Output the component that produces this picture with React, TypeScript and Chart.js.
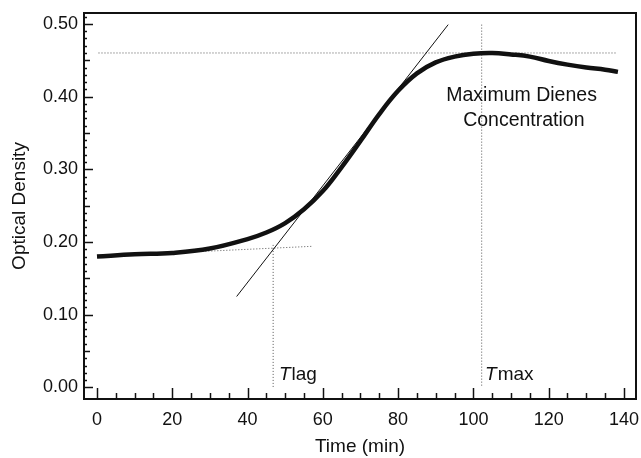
import React, { useEffect, useRef } from "react";
import { Chart, registerables } from "chart.js";

Chart.register(...registerables);

// ---- data ----
const timeMin = [0, 10, 20, 30, 40, 45, 50, 55, 60, 65, 70, 75, 80, 85, 90, 95, 100, 105, 110, 115, 120, 125, 130, 135, 138.4];
const opticalDensity = [0.18, 0.183, 0.185, 0.191, 0.204, 0.213, 0.226, 0.245, 0.27, 0.303, 0.339, 0.376, 0.408, 0.432, 0.447, 0.455, 0.459, 0.46, 0.458, 0.455, 0.449, 0.444, 0.44, 0.437, 0.434];

const tangentX = [37.1, 93.3];
const tangentY = [0.125, 0.499];
const baselineX = [28, 57];
const baselineY = [0.187, 0.194];
const tLag = 46.8;
const tLagTop = 0.196;
const tMax = 102.2;
const tMaxTop = 0.499;
const maxOD = 0.46;
const maxLineX = [0.4, 138];

const xTickLabels = [0, 20, 40, 60, 80, 100, 120, 140];
const yTickLabels = ["0.00", "0.10", "0.20", "0.30", "0.40", "0.50"];

const X_MIN = -3.45;
const X_MAX = 143.2;
const Y_MIN = -0.016;
const Y_MAX = 0.515;

const FONT = "'Liberation Sans', Arial, sans-serif";

const pts = (xs: number[], ys: number[]) => xs.map((x, i) => ({ x, y: ys[i] }));

const decorPlugin = {
  id: "decor",
  afterDraw(chart: any) {
    const { ctx, chartArea: a, scales } = chart;
    const xs = scales.x;
    const ys = scales.y;
    ctx.save();
    // frame
    ctx.strokeStyle = "#111";
    ctx.lineWidth = 2;
    ctx.strokeRect(a.left, a.top, a.right - a.left, a.bottom - a.top);
    // inside ticks y
    ctx.lineWidth = 1.5;
    for (let i = 0; i <= 51; i++) {
      const py = Math.round(ys.getPixelForValue(i / 100)) + 0.5;
      const len = i % 10 === 0 ? 9 : i % 5 === 0 ? 6 : 3;
      ctx.beginPath();
      ctx.moveTo(a.left, py);
      ctx.lineTo(a.left + len, py);
      ctx.stroke();
    }
    // inside ticks x
    for (let v = 0; v <= 140; v += 5) {
      const px = Math.round(xs.getPixelForValue(v)) + 0.5;
      const len = v % 20 === 0 ? 11 : 6;
      ctx.beginPath();
      ctx.moveTo(px, a.bottom);
      ctx.lineTo(px, a.bottom - len);
      ctx.stroke();
    }
    // annotations
    ctx.fillStyle = "#111";
    ctx.textBaseline = "alphabetic";
    ctx.font = `19.5px ${FONT}`;
    ctx.textAlign = "center";
    ctx.fillText("Maximum Dienes", xs.getPixelForValue(112.8), ys.getPixelForValue(0.3934));
    ctx.fillText("Concentration", xs.getPixelForValue(113.4), ys.getPixelForValue(0.36));
    const drawT = (x: number, y: number, rest: string) => {
      ctx.textAlign = "left";
      const px = xs.getPixelForValue(x);
      const py = ys.getPixelForValue(y);
      ctx.font = `italic 19px ${FONT}`;
      ctx.fillText("T", px, py);
      const w = ctx.measureText("T").width;
      ctx.font = `19px ${FONT}`;
      ctx.fillText(rest, px + w + 1, py);
    };
    drawT(48.35, 0.01, "lag");
    drawT(103.1, 0.01, "max");
    ctx.restore();
  },
};

export default function App() {
  const ref = useRef<HTMLCanvasElement | null>(null);
  useEffect(() => {
    document.body.style.margin = "0";
    const canvas = ref.current;
    if (!canvas) return;
    const dotted = { borderColor: "#555", borderWidth: 1, borderDash: [1, 2], pointRadius: 0, fill: false, order: 3, tension: 0 };
    const chart = new Chart(canvas, {
      type: "line",
      data: {
        datasets: [
          {
            data: pts(timeMin, opticalDensity),
            borderColor: "#111",
            borderWidth: 4.5,
            pointRadius: 0,
            tension: 0.4,
            fill: false,
            order: 1,
          },
          {
            data: pts(tangentX, tangentY),
            borderColor: "#111",
            borderWidth: 1,
            pointRadius: 0,
            fill: false,
            tension: 0,
            order: 2,
          },
          { ...dotted, data: pts(baselineX, baselineY) },
          { ...dotted, data: [{ x: tLag, y: tLagTop }, { x: tLag, y: 0 }] },
          { ...dotted, data: [{ x: tMax, y: tMaxTop }, { x: tMax, y: 0 }] },
          { ...dotted, data: pts(maxLineX, [maxOD, maxOD]) },
        ] as any,
      },
      options: {
        animation: false,
        responsive: false,
        events: [],
        layout: { padding: { top: 13, right: 5, left: 0, bottom: 0 } },
        plugins: { legend: { display: false }, tooltip: { enabled: false } },
        scales: {
          x: {
            type: "linear",
            min: X_MIN,
            max: X_MAX,
            afterFit: (s: any) => { s.height = 59; s.paddingLeft = 0; s.paddingRight = 0; },
            afterBuildTicks: (s: any) => { s.ticks = xTickLabels.map((v) => ({ value: v })); },
            grid: { display: false, drawTicks: false },
            border: { display: false },
            ticks: { font: { family: FONT, size: 18 }, color: "#111", padding: 10, maxRotation: 0, callback: (v: any) => String(v) },
            title: { display: true, text: "Time (min)", font: { family: FONT, size: 19 }, color: "#111", padding: { top: 0, bottom: 0 } },
          },
          y: {
            type: "linear",
            min: Y_MIN,
            max: Y_MAX,
            afterFit: (s: any) => { s.width = 84; s.paddingTop = 0; s.paddingBottom = 0; },
            afterBuildTicks: (s: any) => { s.ticks = yTickLabels.map((t) => ({ value: parseFloat(t) })); },
            grid: { display: false, drawTicks: false },
            border: { display: false },
            ticks: { font: { family: FONT, size: 18 }, color: "#111", padding: 6, callback: (v: any) => Number(v).toFixed(2) },
            title: { display: true, text: "Optical Density", font: { family: FONT, size: 19 }, color: "#111", padding: { top: 8, bottom: 0 } },
          },
        },
      },
      plugins: [decorPlugin],
    });
    return () => chart.destroy();
  }, []);
  return (
    <div style={{ width: 641, height: 458 }}>
      <canvas ref={ref} width={641} height={458} />
    </div>
  );
}
